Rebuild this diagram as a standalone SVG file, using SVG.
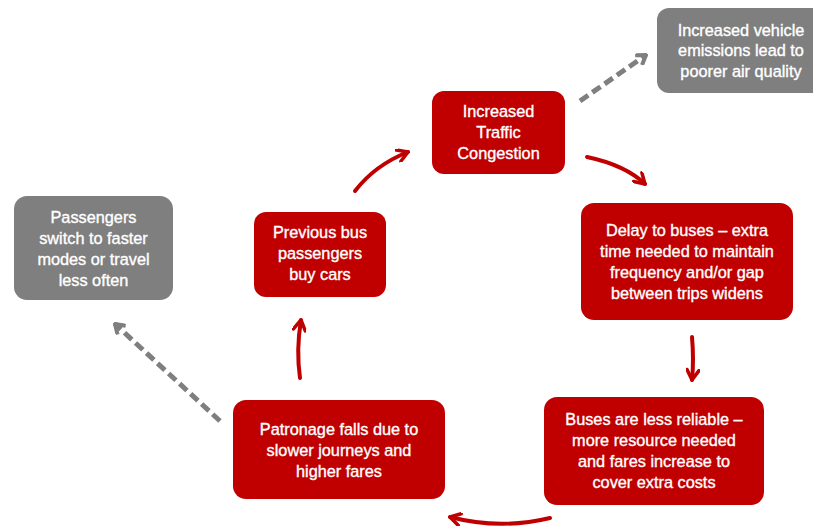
<svg xmlns="http://www.w3.org/2000/svg" width="813" height="526" viewBox="0 0 813 526">
<defs>
<style>
.red{fill:#C00000}
.gray{fill:#7F7F7F}
text{font-family:"Liberation Sans",Arial,sans-serif;font-size:16.3px;fill:#FFFFFF;stroke:#FFFFFF;stroke-width:0.35;text-anchor:middle}
.ra{fill:none;stroke:#C00000;stroke-width:4;stroke-linecap:round;marker-end:url(#rh)}
.ga{fill:none;stroke:#7F7F7F;stroke-width:5;stroke-dasharray:10 5;marker-end:url(#gh)}
</style>
<marker id="rh" viewBox="0 0 14 14" refX="12" refY="7" markerWidth="14" markerHeight="14" markerUnits="userSpaceOnUse" orient="auto">
<path d="M2,1 L12,7 L2,13" fill="none" stroke="#C00000" stroke-width="3.5" stroke-linecap="round" stroke-linejoin="round"/>
</marker>
<marker id="gh" viewBox="0 0 14 14" refX="12" refY="7" markerWidth="14" markerHeight="14" markerUnits="userSpaceOnUse" orient="auto">
<path d="M3,1 L12,7 L3,13" fill="none" stroke="#7F7F7F" stroke-width="4" stroke-dasharray="none"/>
</marker>
</defs>
<rect width="813" height="526" fill="#FFFFFF"/>
<g id="connectors">
<path class="ra" d="M355,191 Q375,165 408,152"/>
<path class="ra" d="M587,157 Q625,165 645,184"/>
<path class="ra" d="M692,337 Q694,360 692,380"/>
<path class="ra" d="M550,518 Q500,530 450,517"/>
<path class="ra" d="M300,378 Q296,350 301,320"/>
<path class="ga" d="M220,421 L115,324"/>
<path class="ga" d="M580,101 L646,55"/>
</g>
<g id="congestion">
<rect class="red" x="432" y="91" width="133" height="83" rx="12"/>
<text x="498.5" y="117">Increased</text>
<text x="498.5" y="138">Traffic</text>
<text x="498.5" y="159">Congestion</text>
</g>
<g id="emissions">
<rect class="gray" x="657" y="8" width="170" height="85" rx="12"/>
<text x="741" y="36">Increased vehicle</text>
<text x="741" y="56">emissions lead to</text>
<text x="741" y="77">poorer air quality</text>
</g>
<g id="delay">
<rect class="red" x="581" y="203" width="212" height="117" rx="13"/>
<text x="687" y="236">Delay to buses – extra</text>
<text x="687" y="257">time needed to maintain</text>
<text x="687" y="278">frequency and/or gap</text>
<text x="687" y="299">between trips widens</text>
</g>
<g id="reliability">
<rect class="red" x="544" y="397" width="220" height="108" rx="13"/>
<text x="654" y="425">Buses are less reliable –</text>
<text x="654" y="446">more resource needed</text>
<text x="654" y="467">and fares increase to</text>
<text x="654" y="488">cover extra costs</text>
</g>
<g id="patronage">
<rect class="red" x="233" y="400" width="212" height="99" rx="13"/>
<text x="339" y="435">Patronage falls due to</text>
<text x="339" y="456">slower journeys and</text>
<text x="339" y="477">higher fares</text>
</g>
<g id="cars">
<rect class="red" x="254" y="212" width="132" height="85" rx="12"/>
<text x="320" y="238">Previous bus</text>
<text x="320" y="259">passengers</text>
<text x="320" y="280">buy cars</text>
</g>
<g id="switch">
<rect class="gray" x="14" y="196" width="159" height="104" rx="13"/>
<text x="93.5" y="223">Passengers</text>
<text x="93.5" y="244">switch to faster</text>
<text x="93.5" y="265">modes or travel</text>
<text x="93.5" y="286">less often</text>
</g>
</svg>
